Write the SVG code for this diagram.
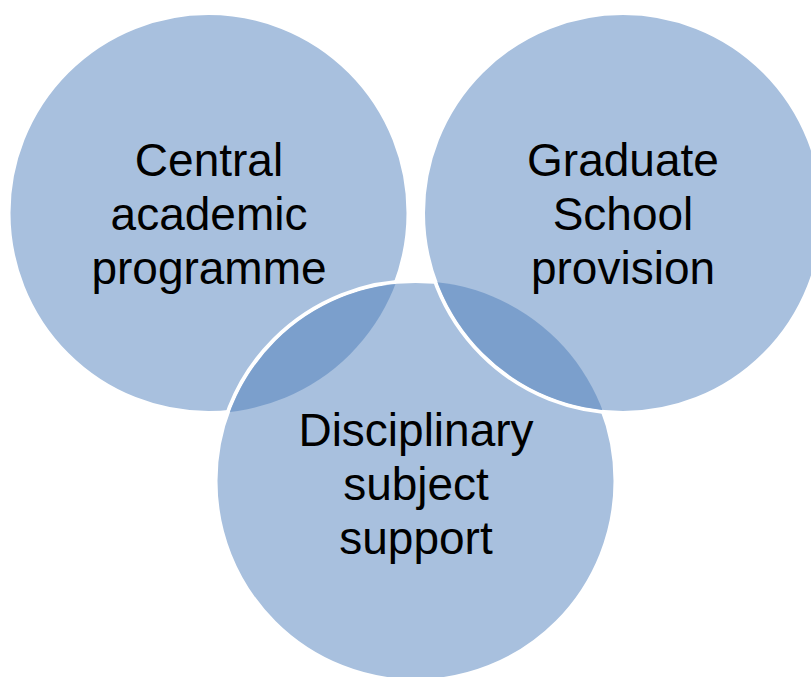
<svg xmlns="http://www.w3.org/2000/svg" width="811" height="677" viewBox="0 0 811 677">
<style>
.c{fill:#a8c0de;stroke:#ffffff;stroke-width:4}
.lens{fill:#7b9fcc}
.t{font-family:"Liberation Sans",Arial,sans-serif;font-size:46px;fill:#000;text-anchor:middle}
</style>
<defs>
<clipPath id="clip1"><circle cx="208.5" cy="213" r="200"/></clipPath>
<clipPath id="clip3"><circle cx="415.5" cy="481" r="200"/></clipPath>
</defs>
<rect width="811" height="677" fill="#ffffff"/>
<g id="circle-central">
<circle class="c" cx="208.5" cy="213" r="200"/>
</g>
<g id="circle-disciplinary">
<circle class="c" cx="415.5" cy="481" r="200"/>
</g>
<g id="circle-graduate">
<circle class="c" cx="623" cy="213" r="200"/>
</g>
<g id="overlaps">
<circle class="lens" cx="415.5" cy="481" r="198" clip-path="url(#clip1)"/>
<circle class="lens" cx="623" cy="213" r="198" clip-path="url(#clip3)"/>
</g>
<g id="label-central">
<text class="t" x="209" y="176">Central</text>
<text class="t" x="209" y="230">academic</text>
<text class="t" x="209" y="284">programme</text>
</g>
<g id="label-graduate">
<text class="t" x="623" y="176">Graduate</text>
<text class="t" x="623" y="230">School</text>
<text class="t" x="623" y="284">provision</text>
</g>
<g id="label-disciplinary">
<text class="t" x="416" y="446">Disciplinary</text>
<text class="t" x="416" y="500">subject</text>
<text class="t" x="416" y="554">support</text>
</g>
</svg>
